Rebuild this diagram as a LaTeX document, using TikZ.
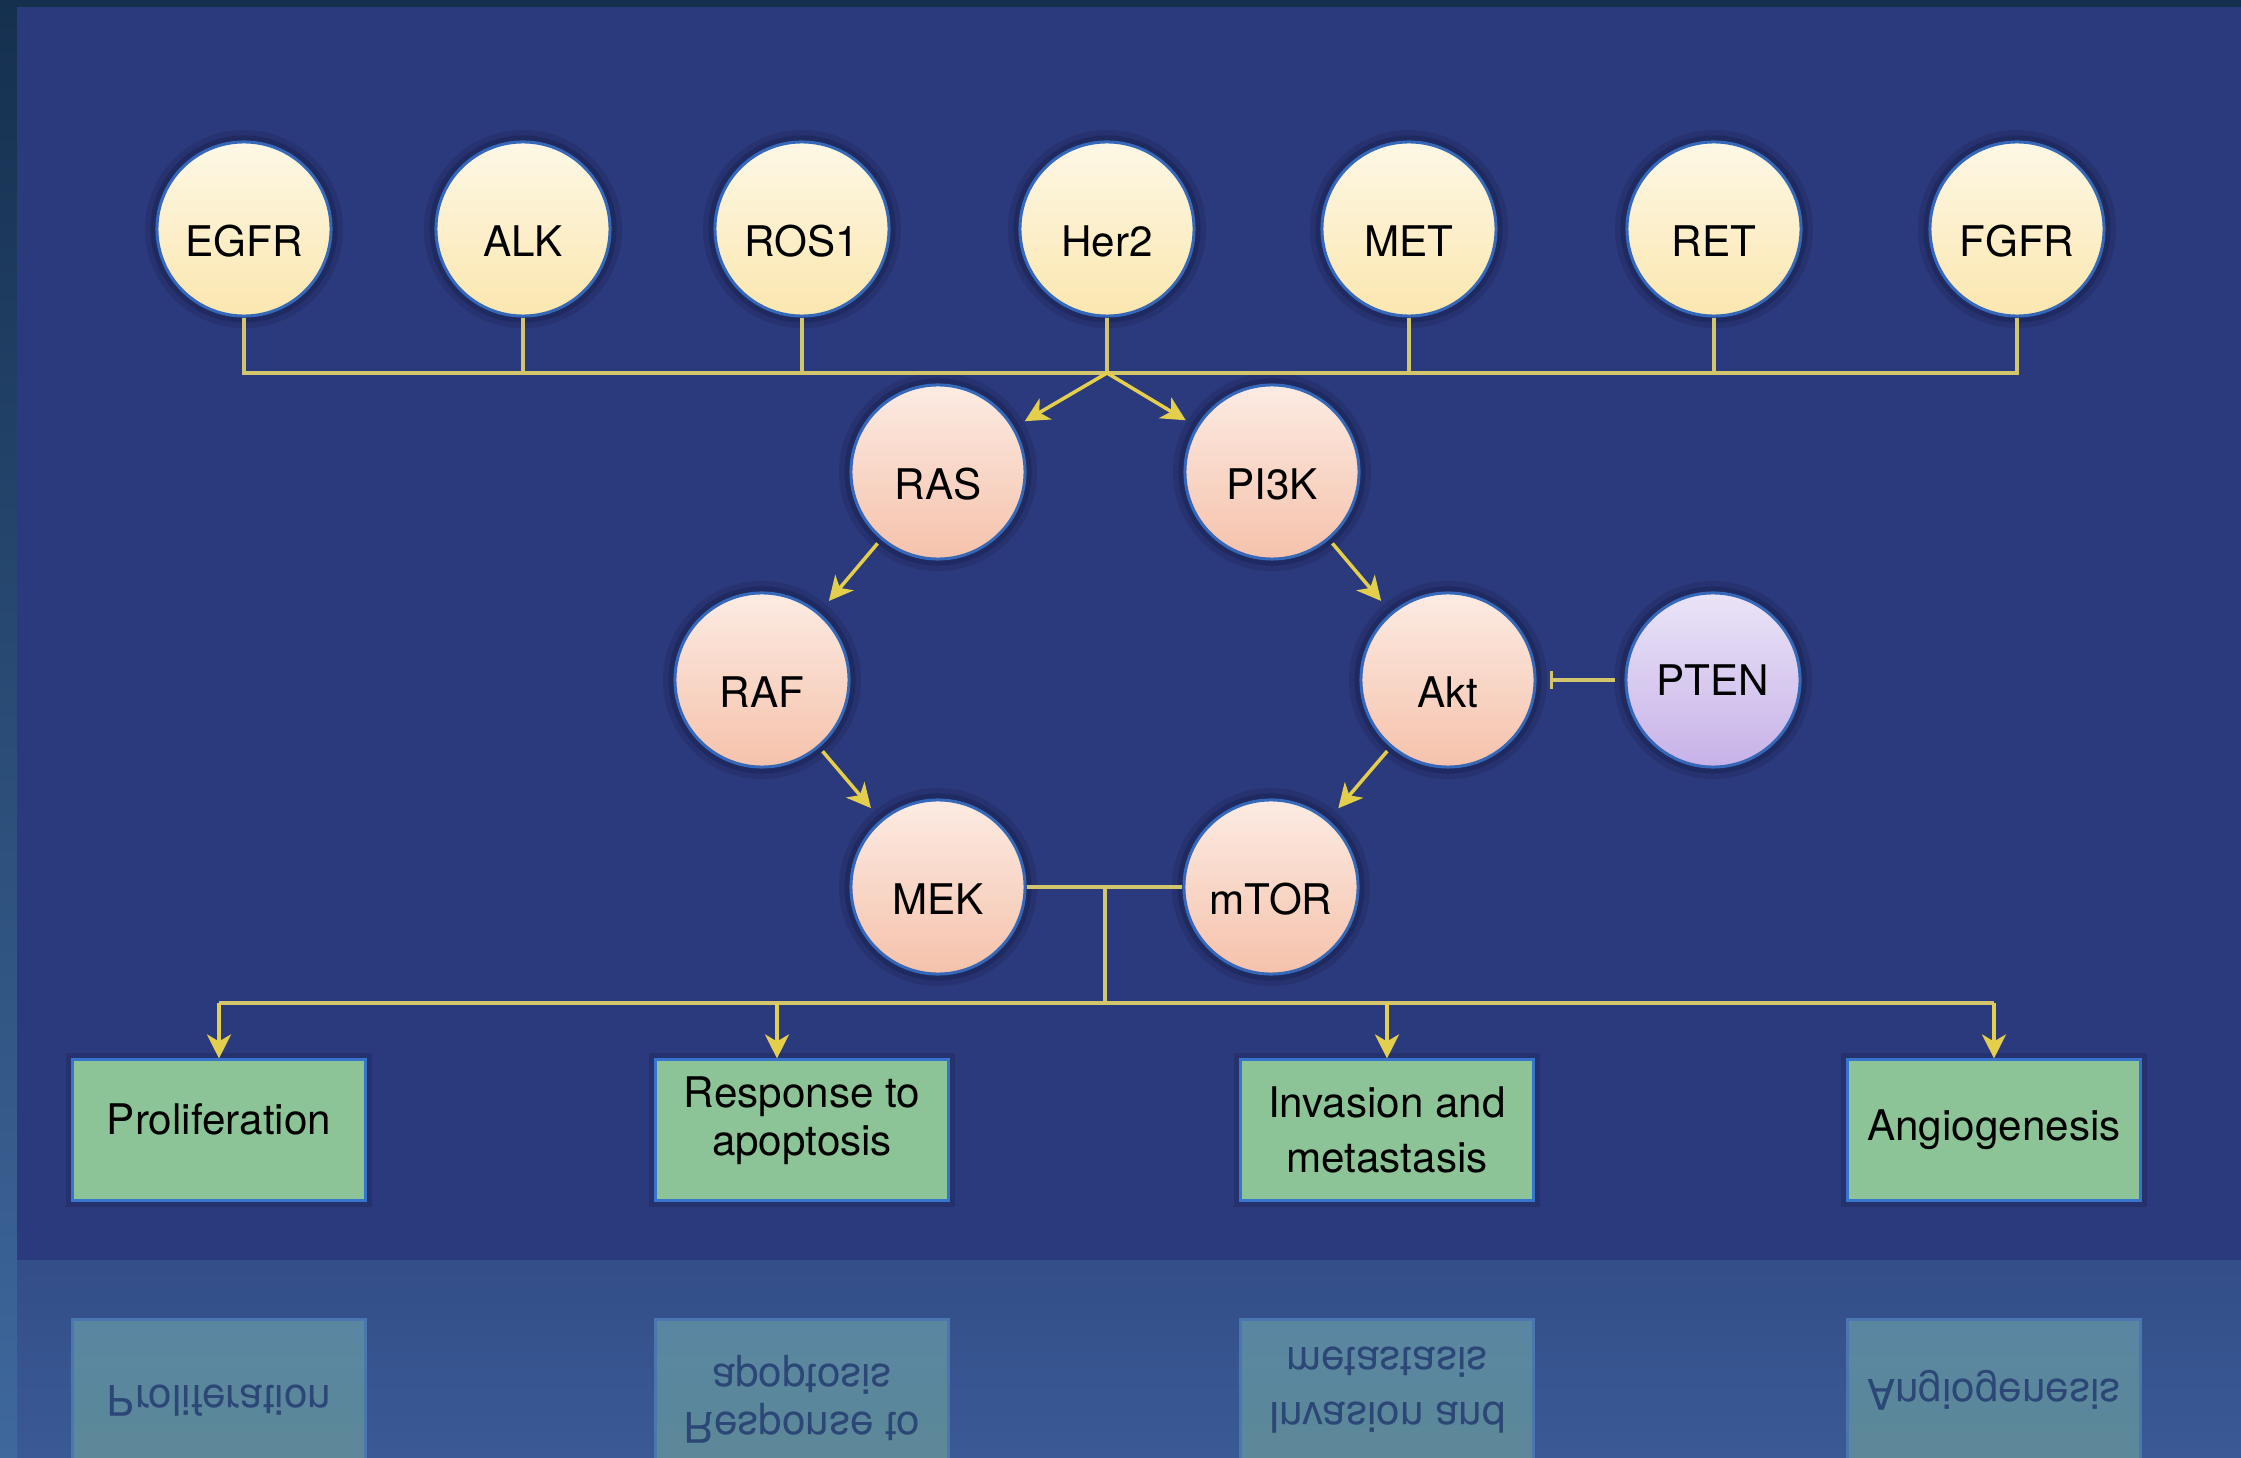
\documentclass[tikz,border=0pt]{standalone}
\usepackage{fontspec}
\setmainfont{TeX Gyre Heros}
\usetikzlibrary{arrows.meta}
\definecolor{stripT}{HTML}{15304F}
\definecolor{stripB}{HTML}{3F689D}
\definecolor{panel}{HTML}{2B3A7C}
\definecolor{bandT}{HTML}{334E89}
\definecolor{bandB}{HTML}{3A5A95}
\definecolor{wire}{HTML}{D2C56C}
\definecolor{arrowc}{HTML}{E4CF4C}
\definecolor{ring}{HTML}{3568B8}
\definecolor{halo}{HTML}{18204F}
\definecolor{creamT}{HTML}{FDF8E6}
\definecolor{creamB}{HTML}{FBE6AE}
\definecolor{pinkT}{HTML}{FCEBE3}
\definecolor{pinkB}{HTML}{F5C2AB}
\definecolor{lilacT}{HTML}{EAE4F7}
\definecolor{lilacB}{HTML}{C7B2E8}
\definecolor{boxfill}{HTML}{8CC497}
\definecolor{boxedge}{HTML}{3775CC}
\definecolor{refboxT}{HTML}{5C8898}
\definecolor{refboxB}{HTML}{5A86A2}
\definecolor{refedge}{HTML}{4A77B0}
\definecolor{reftext}{HTML}{2B4775}
\tikzset{
  glow/.style={preaction={draw=halo, line width=2.4mm, draw opacity=0.25},
               preaction={draw=halo, line width=1.3mm, draw opacity=0.45}},
  softglow/.style={preaction={draw=halo, line width=1.4mm, draw opacity=0.3}},
  base/.style={circle, glow, draw=ring, line width=0.3mm, minimum size=1.74cm,
               inner sep=0pt, font=\fontsize{12}{14}\selectfont, text=black,
               text height=15.4pt, text depth=0pt},
  rtk/.style={base, top color=creamT, bottom color=creamB},
  kin/.style={base, top color=pinkT, bottom color=pinkB},
  supp/.style={base, top color=lilacT, bottom color=lilacB, text height=8.6pt},
  outcome/.style={rectangle, softglow, draw=boxedge, line width=0.3mm, fill=boxfill,
               minimum width=2.92cm, minimum height=1.40cm, align=center,
               font=\fontsize{12}{13.5}\selectfont, inner sep=0pt},
  refl/.style={rectangle, draw=refedge, line width=0.3mm,
               top color=refboxB, bottom color=refboxT, transform shape,
               minimum width=2.92cm, minimum height=1.40cm, align=center,
               font=\fontsize{12}{13.5}\selectfont, text=reftext, inner sep=0pt},
  wireline/.style={draw=wire, line width=0.33mm},
  arr/.style={draw=arrowc, line width=0.35mm,
              -{Stealth[length=2.4mm,width=2.4mm,inset=0.7mm]}},
  inhib/.style={draw=wire, line width=0.33mm, -{Bar[width=1.8mm]}},
}
\begin{document}
\begin{tikzpicture}[x=0.01cm,y=-0.01cm]
\useasboundingbox (0,0) rectangle (2241,1458);
% background
\shade[top color=stripT, bottom color=stripB] (0,0) rectangle (2241,1458);
\fill[panel] (17,7) rectangle (2241,1260);
\shade[top color=bandT, bottom color=bandB] (17,1260) rectangle (2241,1458);

% receptor row
\node[rtk] (egfr) at (244,229) {EGFR};
\node[rtk] (alk)  at (523,229) {ALK};
\node[rtk] (ros)  at (802,229) {ROS1};
\node[rtk] (her)  at (1107,229) {Her2};
\node[rtk] (met)  at (1409,229) {MET};
\node[rtk] (ret)  at (1714,229) {RET};
\node[rtk] (fgfr) at (2017,229) {FGFR};

% pathway
\node[kin] (ras)  at (938,472) {RAS};
\node[kin] (pik)  at (1272,472) {PI3K};
\node[kin] (raf)  at (762,680) {RAF};
\node[kin] (akt)  at (1448,680) {Akt};
\node[supp] (pten) at (1713,680) {PTEN};
\node[kin] (mek)  at (938,887) {MEK};
\node[kin] (mtor) at (1271,887) {mTOR};

% outcomes
\node[outcome, text depth=6pt] (prol) at (219,1130) {Proliferation};
\node[outcome, text depth=8pt] (resp) at (802,1130) {Response to\\apoptosis};
\node[outcome, font=\fontsize{12}{15.4}\selectfont] (inv) at (1387,1130) {Invasion and\\metastasis};
\node[outcome] (angio) at (1994,1130) {Angiogenesis};

% reflections (mirror about y = 1260)
\begin{scope}[shift={(0,2520)}, yscale=-1]
\node[refl, text depth=6pt] (rprol) at (219,1130) {Proliferation};
\node[refl, text depth=8pt] (rresp) at (802,1130) {Response to\\apoptosis};
\node[refl, font=\fontsize{12}{15.4}\selectfont] (rinv) at (1387,1130) {Invasion and\\metastasis};
\node[refl] (rangio) at (1994,1130) {Angiogenesis};
\end{scope}

% top bus
\coordinate (hub) at (1107,373);
\draw[wireline] (egfr.south) |- (hub) -| (fgfr.south);
\foreach \n in {alk,ros,her,met,ret}
  \draw[wireline] (\n.south) -- (\n.south |- hub);
\draw[arr, shorten >=1.2mm] (hub) -- (ras);
\draw[arr, shorten >=1.2mm] (hub) -- (pik);

% cascade arrows
\draw[arr, shorten <=0.5mm, shorten >=1.5mm] (ras) -- (raf);
\draw[arr, shorten <=0.5mm, shorten >=1.5mm] (raf) -- (mek);
\draw[arr, shorten <=0.5mm, shorten >=1.5mm] (pik) -- (akt);
\draw[arr, shorten <=0.5mm, shorten >=1.5mm] (akt) -- (mtor);
\draw[inhib, shorten <=0.9mm, shorten >=1.3mm] (pten.west) -- (pten.west -| akt.east);

% lower bus
\coordinate (hub2) at (1105,887);
\coordinate (hub3) at (1105,1003);
\draw[wireline] (mek.east) -- (mtor.west);
\draw[wireline] (hub2) -- (hub3);
\draw[wireline] (prol.north |- hub3) -- (angio.north |- hub3);
\coordinate (d2) at (777,1003);
\draw[arr] (prol.north |- hub3) -- (prol.north);
\draw[arr] (d2) -- (d2 |- resp.north);
\draw[arr] (inv.north |- hub3) -- (inv.north);
\draw[arr] (angio.north |- hub3) -- (angio.north);
\end{tikzpicture}
\end{document}
